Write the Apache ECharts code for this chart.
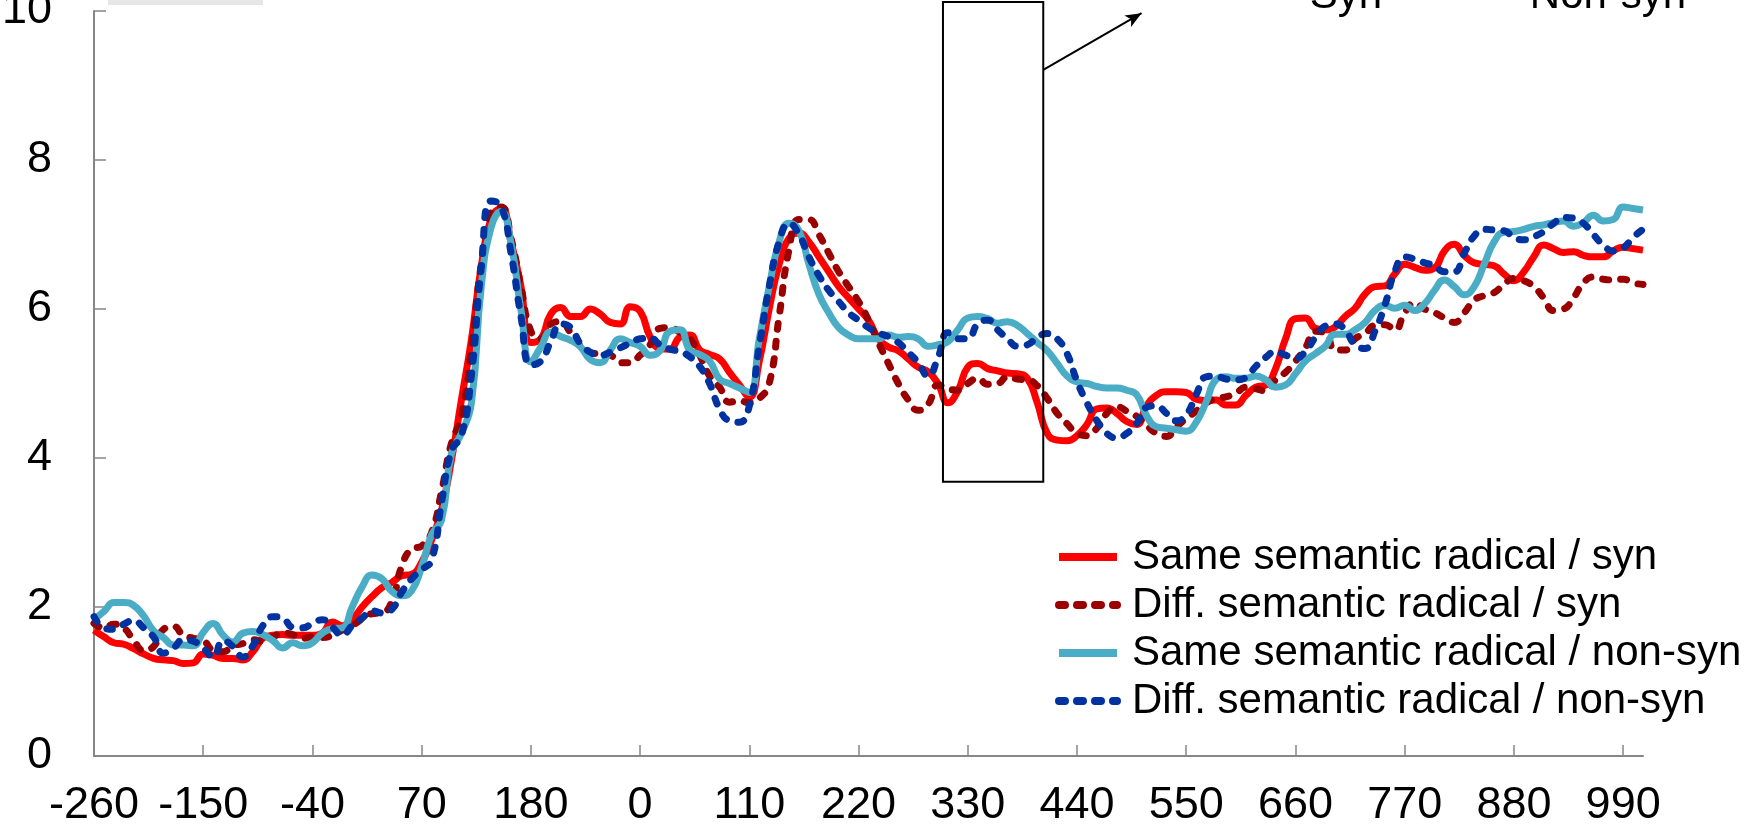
<!DOCTYPE html>
<html>
<head>
<meta charset="utf-8">
<title>ERP semantic radical</title>
<script src="https://cdn.jsdelivr.net/npm/echarts@6.0.0/dist/echarts.min.js"></script>
<style>
  html, body { margin: 0; padding: 0; background: #fff; }
  #chart { width: 1762px; height: 836px; }
</style>
</head>
<body>
<div id="chart"></div>
<script>
// sample index of each labelled tick (one sample = 10 ms, two epochs joined)
var tickIdx = [0, 11, 22, 33, 44, 55, 66, 77, 88, 99, 110, 121, 132, 143, 154];
var tickLabels = ['-260', '-150', '-40', '70', '180', '0', '110', '220', '330', '440', '550', '660', '770', '880', '990'];

var seriesNames = [
  'Same semantic radical / syn',
  'Diff. semantic radical / syn',
  'Same semantic radical / non-syn',
  'Diff. semantic radical / non-syn'
];

// values, one per sample
var sameSyn = [
  1.69, 1.60, 1.52, 1.50, 1.44, 1.37, 1.31, 1.29, 1.28, 1.24,
  1.25, 1.37, 1.35, 1.31, 1.31, 1.29, 1.40, 1.58, 1.62, 1.63,
  1.62, 1.62, 1.62, 1.65, 1.80, 1.75, 1.83, 2.00, 2.14, 2.26,
  2.33, 2.42, 2.44, 2.60, 2.90, 3.30, 3.97, 4.78, 5.58, 6.57,
  7.22, 7.35, 6.90, 6.30, 5.55, 5.60, 5.93, 6.02, 5.90, 5.90,
  6.00, 5.93, 5.82, 5.80, 6.03, 5.97, 5.63, 5.47, 5.46, 5.62,
  5.65, 5.45, 5.39, 5.33, 5.15, 4.98, 4.82, 5.30, 6.00, 6.60,
  6.95, 7.02, 6.90, 6.70, 6.50, 6.30, 6.15, 6.00, 5.85, 5.60,
  5.49, 5.44, 5.33, 5.22, 5.16, 5.00, 4.74, 4.90, 5.22, 5.27,
  5.20, 5.17, 5.14, 5.13, 5.07, 4.74, 4.33, 4.24, 4.23, 4.30,
  4.45, 4.66, 4.67, 4.60, 4.49, 4.45, 4.70, 4.84, 4.89, 4.89,
  4.88, 4.79, 4.77, 4.78, 4.71, 4.71, 4.84, 4.95, 4.98, 5.20,
  5.60, 5.87, 5.88, 5.74, 5.72, 5.76, 5.90, 6.01, 6.20, 6.30,
  6.31, 6.47, 6.60, 6.56, 6.52, 6.55, 6.78, 6.87, 6.72, 6.62,
  6.60, 6.58, 6.47, 6.38, 6.50, 6.70, 6.86, 6.81, 6.76, 6.77,
  6.72, 6.70, 6.70, 6.78, 6.83, 6.81, 6.79
];
var diffSyn = [
  1.78, 1.72, 1.77, 1.72, 1.55, 1.42, 1.47, 1.70, 1.74, 1.62,
  1.58, 1.55, 1.42, 1.40, 1.48, 1.51, 1.56, 1.54, 1.60, 1.65,
  1.63, 1.58, 1.60, 1.59, 1.62, 1.69, 1.75, 1.84, 1.91, 1.92,
  2.08, 2.55, 2.78, 2.82, 3.00, 3.55, 4.20, 4.55, 5.45, 6.60,
  7.30, 7.37, 6.95, 6.30, 5.70, 5.60, 5.80, 5.83, 5.68, 5.50,
  5.41, 5.40, 5.38, 5.28, 5.28, 5.38, 5.52, 5.74, 5.75, 5.69,
  5.60, 5.38, 5.10, 4.95, 4.75, 4.77, 4.74, 4.80, 5.00, 5.90,
  6.80, 7.20, 7.20, 7.00, 6.75, 6.50, 6.30, 6.10, 5.85, 5.55,
  5.27, 5.00, 4.78, 4.64, 4.72, 4.98, 4.93, 4.91, 5.00, 5.07,
  4.99, 5.00, 5.09, 5.06, 5.05, 4.97, 4.80, 4.60, 4.46, 4.33,
  4.30, 4.40, 4.60, 4.69, 4.63, 4.56, 4.44, 4.33, 4.29, 4.42,
  4.53, 4.63, 4.74, 4.80, 4.82, 4.87, 4.95, 4.93, 4.90, 5.05,
  5.15, 5.30, 5.48, 5.70, 5.68, 5.45, 5.45, 5.60, 5.67, 5.78,
  5.79, 5.72, 5.95, 6.08, 6.00, 5.95, 5.88, 5.82, 5.95, 6.12,
  6.18, 6.22, 6.33, 6.41, 6.38, 6.30, 6.15, 5.98, 6.00, 6.15,
  6.35, 6.43, 6.40, 6.39, 6.40, 6.35, 6.33
];
var sameNon = [
  1.83, 1.94, 2.06, 2.06, 2.02, 1.88, 1.68, 1.59, 1.49, 1.49,
  1.48, 1.66, 1.78, 1.62, 1.53, 1.65, 1.67, 1.63, 1.55, 1.45,
  1.52, 1.48, 1.52, 1.65, 1.71, 1.72, 2.00, 2.27, 2.43, 2.38,
  2.21, 2.15, 2.22, 2.54, 2.97, 3.17, 4.06, 4.33, 4.73, 6.30,
  7.10, 7.31, 6.88, 5.99, 5.29, 5.49, 5.69, 5.63, 5.58, 5.49,
  5.32, 5.28, 5.45, 5.60, 5.55, 5.50, 5.38, 5.44, 5.70, 5.72,
  5.45, 5.39, 5.30, 5.06, 5.00, 4.94, 4.88, 5.60, 6.30, 6.90,
  7.15, 7.05, 6.60, 6.20, 5.95, 5.75, 5.65, 5.60, 5.60, 5.60,
  5.65, 5.62, 5.63, 5.60, 5.50, 5.52, 5.56, 5.72, 5.88, 5.90,
  5.87, 5.81, 5.83, 5.78, 5.67, 5.55, 5.44, 5.27, 5.10, 5.02,
  5.00, 4.96, 4.94, 4.94, 4.91, 4.85, 4.57, 4.42, 4.40, 4.38,
  4.36, 4.48, 4.75, 5.05, 5.09, 5.07, 5.07, 5.10, 5.05, 4.95,
  4.98, 5.13, 5.30, 5.40, 5.50, 5.66, 5.66, 5.72, 5.82, 5.98,
  6.05, 6.01, 6.05, 5.98, 6.07, 6.25, 6.39, 6.30, 6.19, 6.30,
  6.60, 6.90, 7.03, 7.04, 7.07, 7.11, 7.13, 7.16, 7.18, 7.11,
  7.16, 7.26, 7.18, 7.20, 7.37, 7.35, 7.33
];
var diffNon = [
  1.87, 1.72, 1.70, 1.77, 1.82, 1.72, 1.60, 1.38, 1.45, 1.56,
  1.54, 1.45, 1.33, 1.55, 1.47, 1.33, 1.48, 1.75, 1.87, 1.85,
  1.73, 1.72, 1.78, 1.83, 1.73, 1.62, 1.75, 1.85, 1.95, 1.92,
  1.97, 2.20, 2.38, 2.50, 2.63, 3.40, 4.10, 4.30, 5.10, 6.55,
  7.45, 7.38, 6.75, 5.90, 5.25, 5.30, 5.56, 5.80, 5.75, 5.53,
  5.42, 5.38, 5.42, 5.48, 5.54, 5.60, 5.61, 5.52, 5.46, 5.43,
  5.36, 5.23, 5.00, 4.66, 4.50, 4.48, 4.70, 5.50, 6.30, 6.90,
  7.15, 7.00, 6.70, 6.45, 6.25, 6.10, 5.95, 5.85, 5.75, 5.68,
  5.63, 5.55, 5.42, 5.28, 5.10, 5.35, 5.68, 5.60, 5.60, 5.80,
  5.85, 5.72, 5.60, 5.50, 5.52, 5.62, 5.67, 5.60, 5.40, 5.03,
  4.74, 4.50, 4.33, 4.27, 4.33, 4.46, 4.68, 4.70, 4.60, 4.50,
  4.58, 4.85, 5.09, 5.10, 5.06, 5.05, 5.08, 5.23, 5.35, 5.43,
  5.38, 5.34, 5.43, 5.62, 5.77, 5.80, 5.72, 5.52, 5.47, 5.70,
  6.05, 6.50, 6.70, 6.67, 6.62, 6.58, 6.50, 6.50, 6.75, 6.98,
  7.07, 7.06, 7.05, 6.96, 6.93, 6.97, 7.04, 7.15, 7.23, 7.22,
  7.15, 7.00, 6.86, 6.78, 6.82, 6.96, 7.07
];

var FONT = 'Liberation Sans, Arial, sans-serif';
var AXIS_GREY = '#868686';

function toPairs(arr) {
  return arr.map(function (v, i) { return [i, v]; });
}

function lineSeries(name, values, color, dashed) {
  return {
    name: name,
    type: 'line',
    data: toPairs(values),
    smooth: true,
    symbol: 'none',
    showSymbol: false,
    clip: false,
    animation: false,
    lineStyle: {
      color: color,
      width: 7,
      type: dashed ? [6, 12] : 'solid',
      cap: dashed ? 'round' : 'butt'
    },
    itemStyle: { color: color }
  };
}

var chart = echarts.init(document.getElementById('chart'));

var red = lineSeries(seriesNames[0], sameSyn, '#FF0000', false);
// arrow pointing out of the 300-400 ms window
red.markLine = {
  silent: true,
  symbol: ['none', 'arrow'],
  symbolSize: [10, 16],
  label: { show: false },
  lineStyle: { color: '#000', width: 2, type: 'solid' },
  data: [[{ coord: [95.6, 9.21] }, { coord: [105.5, 9.97] }]]
};

chart.setOption({
  backgroundColor: '#fff',
  animation: false,
  grid: { left: 94, right: 119, top: 11, bottom: 80, outerBoundsMode: 'none' },
  xAxis: {
    type: 'value',
    min: 0,
    max: 156,
    interval: 11,
    splitLine: { show: false },
    axisLine: { show: true, lineStyle: { color: AXIS_GREY, width: 2 } },
    axisTick: { show: true, inside: true, length: 11, customValues: tickIdx, lineStyle: { color: AXIS_GREY, width: 1.5 } },
    axisLabel: {
      customValues: tickIdx,
      margin: 27,
      color: '#000',
      fontSize: 45,
      fontFamily: FONT,
      formatter: function (v) {
        var k = tickIdx.indexOf(v);
        return k < 0 ? '' : tickLabels[k];
      }
    }
  },
  yAxis: {
    type: 'value',
    min: 0,
    max: 10,
    interval: 2,
    splitLine: { show: false },
    axisLine: { show: true, lineStyle: { color: AXIS_GREY, width: 2 } },
    axisTick: { show: true, inside: true, length: 12, lineStyle: { color: AXIS_GREY, width: 1.5 } },
    axisLabel: { margin: 42, color: '#000', fontSize: 45, fontFamily: FONT }
  },
  legend: {
    orient: 'vertical',
    left: 1050,
    top: 531,
    itemWidth: 58,
    itemHeight: 12,
    itemGap: 6,
    itemStyle: { opacity: 0 },
    lineStyle: { width: 8 },
    textStyle: { color: '#000', fontSize: 42, lineHeight: 42, fontFamily: FONT, padding: [0, 0, 0, 10] },
    data: seriesNames
  },
  series: [
    red,
    lineSeries(seriesNames[1], diffSyn, '#9B0000', true),
    lineSeries(seriesNames[2], sameNon, '#4BACC6', false),
    lineSeries(seriesNames[3], diffNon, '#0033A0', true)
  ]
});

// window box: corners placed through the chart's own axes
var boxTL = chart.convertToPixel({ gridIndex: 0 }, [85.5, 10.12]);
var boxBR = chart.convertToPixel({ gridIndex: 0 }, [95.6, 3.68]);

chart.setOption({
  graphic: [
    { id: 'smear', type: 'rect', shape: { x: 108, y: 0, width: 155, height: 5 }, style: { fill: '#e6e6e6' }, silent: true },
    { id: 'box', type: 'rect', shape: { x: boxTL[0], y: boxTL[1], width: boxBR[0] - boxTL[0], height: boxBR[1] - boxTL[1] },
      style: { fill: 'none', stroke: '#000', lineWidth: 2 }, silent: true, z: 10 },
    { id: 'syn', type: 'text', style: { text: 'Syn', x: 1346, y: 17, textAlign: 'center', textVerticalAlign: 'bottom', font: '42px ' + FONT, fill: '#000' }, silent: true },
    { id: 'nonsyn', type: 'text', style: { text: 'Non-syn', x: 1608, y: 17, textAlign: 'center', textVerticalAlign: 'bottom', font: '42px ' + FONT, fill: '#000' }, silent: true }
  ]
});
</script>
</body>
</html>
